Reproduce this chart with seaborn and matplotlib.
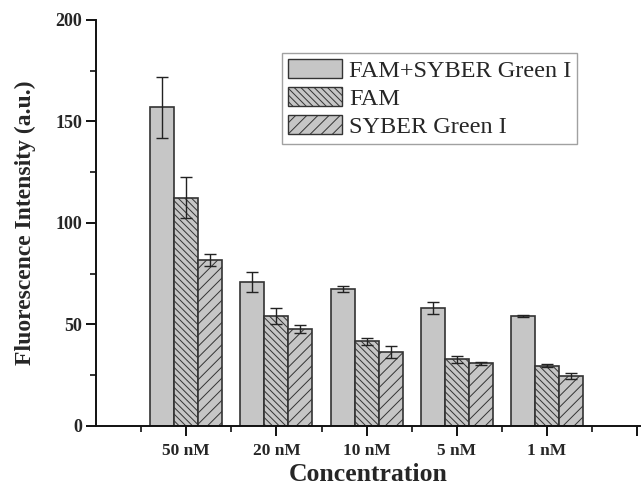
import numpy as np
import pandas as pd
import matplotlib
matplotlib.use("Agg")
import matplotlib.pyplot as plt
import seaborn as sns
from matplotlib.patches import Patch
from matplotlib.ticker import MultipleLocator, FixedLocator

concentrations = ["50 nM", "20 nM", "10 nM", "5 nM", "1 nM"]
series = ["FAM+SYBER Green I", "FAM", "SYBER Green I"]
fam_syber = [157.0, 70.8, 67.5, 58.3, 54.2]
fam_syber_err = [15.0, 5.0, 1.6, 3.0, 0.5]
fam = [112.5, 54.0, 41.7, 32.8, 29.6]
fam_err = [10.0, 4.0, 1.6, 1.6, 0.7]
syber = [81.8, 47.8, 36.5, 30.9, 24.6]
syber_err = [3.0, 2.0, 2.8, 0.7, 1.3]

values = [fam_syber, fam, syber]
errors = [fam_syber_err, fam_err, syber_err]

df = pd.DataFrame({
    "Concentration": concentrations * 3,
    "Value": fam_syber + fam + syber,
    "Series": sum([[s] * len(concentrations) for s in series], []),
})

sns.set_style("ticks")
plt.rcParams["font.family"] = ["Liberation Serif", "DejaVu Serif"]
plt.rcParams["hatch.linewidth"] = 0.7

fig = plt.figure(figsize=(6.41, 4.86), dpi=100)
ax = fig.add_axes([0.15, 0.1235, 0.848, 0.8355])

fill = "#c6c6c6"
edge = "#333333"
hatches = ["", "\\\\\\\\\\", "///"]

sns.barplot(data=df, x="Concentration", y="Value", hue="Series",
            order=concentrations, hue_order=series, errorbar=None,
            width=0.8, palette=[fill] * 3, ax=ax, legend=False,
            saturation=1, edgecolor=edge, linewidth=1.2)

for cont, h, errs in zip(ax.containers, hatches, errors):
    xs, ys = [], []
    for p in cont.patches:
        p.set_hatch(h)
        p.set_edgecolor(edge)
        xs.append(p.get_x() + p.get_width() / 2)
        ys.append(p.get_height())
    ax.errorbar(xs, ys, yerr=errs, fmt="none", ecolor="#222222",
                elinewidth=1.0, capsize=4.5, capthick=1.0, zorder=5)

ax.set_xlim(-1, 5.03)
ax.set_ylim(0, 200)
ax.xaxis.set_major_locator(FixedLocator(range(6)))
ax.set_xticklabels(concentrations + [""])
ax.xaxis.set_minor_locator(FixedLocator([i - 0.5 for i in range(6)]))
ax.yaxis.set_major_locator(MultipleLocator(50))
ax.yaxis.set_minor_locator(MultipleLocator(25))

for s in ["top", "right"]:
    ax.spines[s].set_visible(False)
for s in ["left", "bottom"]:
    ax.spines[s].set_linewidth(1.4)
    ax.spines[s].set_color("#111111")

ax.tick_params(axis="both", which="major", direction="out", length=7,
               width=1.4, color="#111111")
ax.tick_params(axis="both", which="minor", direction="out", length=4,
               width=1.2, color="#111111")
ax.tick_params(axis="x", which="major", pad=5)
ax.tick_params(axis="y", which="major", pad=3)
for lab in ax.get_xticklabels():
    lab.set_fontweight("bold")
    lab.set_fontsize(12.5)
for lab in ax.get_yticklabels():
    lab.set_fontweight("bold")
    lab.set_fontsize(13)

ax.set_xlabel("Concentration", fontsize=18.5, fontweight="bold", labelpad=3)
ax.set_ylabel("Fluorescence Intensity (a.u.)", fontsize=17, fontweight="bold",
              labelpad=14)

handles = [Patch(facecolor=fill, edgecolor=edge, hatch=h, linewidth=1.0)
           for h in hatches]
leg = ax.legend(handles, series, loc="upper left",
                bbox_to_anchor=(0.342, 0.919), borderaxespad=0,
                fontsize=17.5, frameon=True, fancybox=False,
                handlelength=2.2, handleheight=0.85, handletextpad=0.3,
                labelspacing=0.2, borderpad=0.25)
leg.get_frame().set_edgecolor("#8a8a8a")
leg.get_frame().set_linewidth(1.0)

fig.savefig("out.png", dpi=100)
